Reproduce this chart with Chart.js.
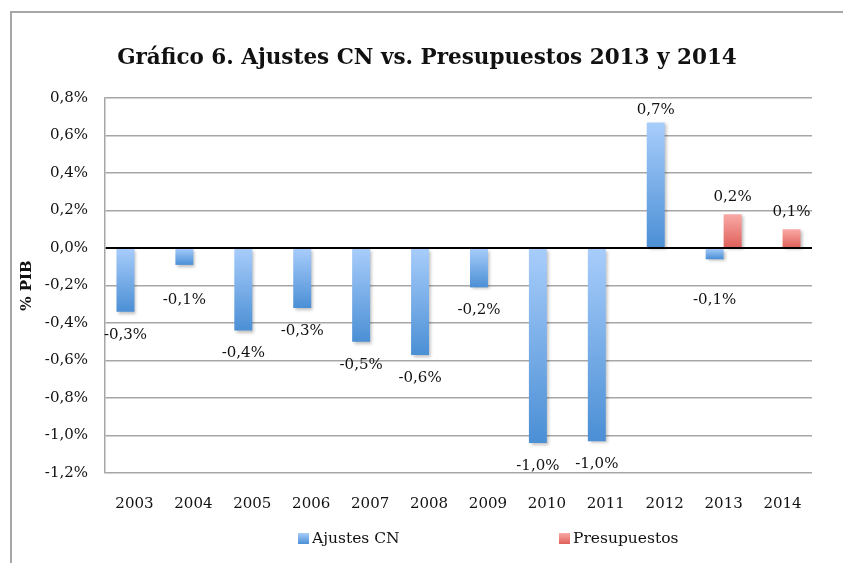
<!DOCTYPE html>
<html>
<head>
<meta charset="utf-8">
<script src="https://cdn.jsdelivr.net/npm/chart.js@4"></script>
<style>
  body { margin: 0; background: #fff; }
  #frame { position: absolute; left: 10px; top: 11px; width: 900px; height: 600px; border: 2px solid #a6a6a6; }
  #wrap { position: absolute; left: 11px; top: 12px; width: 832px; height: 551px; }
  #title { position: absolute; left: 11px; width: 832px; top: 44px; line-height: 26px; text-align: center;
           font: bold 21.5px "DejaVu Serif", serif; color: #111; }
  .leg { position: absolute; top: 529px; font: 15.5px "DejaVu Serif", serif; color: #111; }
  .leg i { display: inline-block; width: 11px; height: 11px; margin-right: 3px; vertical-align: -1px; }
</style>
</head>
<body>
<div id="frame"></div>
<div id="wrap"><canvas id="chart"></canvas></div>
<div id="title">Gráfico 6. Ajustes CN vs. Presupuestos 2013 y 2014</div>
<div class="leg" style="left:298px"><i style="background:linear-gradient(#a8cdfb,#4b8fd5)"></i>Ajustes CN</div>
<div class="leg" style="left:559px"><i style="background:linear-gradient(#f9aaa6,#df5f59)"></i>Presupuestos</div>
<script>
// years on the x axis
const years = ['2003', '2004', '2005', '2006', '2007', '2008', '2009', '2010', '2011', '2012', '2013', '2014'];
// % of GDP
const ajustesCN = [-0.34, -0.09, -0.44, -0.32, -0.50, -0.57, -0.21, -1.04, -1.03, 0.67, -0.06, null];
const presupuestos = [null, null, null, null, null, null, null, null, null, null, 0.18, 0.10];

const serif = '"DejaVu Serif", serif';
const pct = v => (Math.abs(v) < 1e-9 ? 0 : v).toFixed(1).replace('.', ',') + '%';

// vertical gradient over each bar: light on top, dark at the bottom
function barGradient(top, bottom) {
  return ctx => {
    const chart = ctx.chart;
    const y = chart.scales.y;
    if (!y || ctx.raw == null || !chart.chartArea) return bottom;
    const p0 = y.getPixelForValue(0);
    const p1 = y.getPixelForValue(ctx.raw);
    const a = Math.min(p0, p1), b = Math.max(p0, p1);
    if (b - a < 1) return bottom;
    const g = chart.ctx.createLinearGradient(0, a, 0, b);
    g.addColorStop(0, top);
    g.addColorStop(1, bottom);
    return g;
  };
}

const shadowPlugin = {
  id: 'shadow',
  beforeDatasetsDraw(chart) {
    const c = chart.ctx;
    c.save();
    c.shadowColor = 'rgba(0,0,0,0.25)';
    c.shadowBlur = 3;
    c.shadowOffsetX = 2;
    c.shadowOffsetY = 2;
  },
  afterDatasetsDraw(chart) {
    chart.ctx.restore();
  }
};

const labelPlugin = {
  id: 'labels',
  afterDatasetsDraw(chart) {
    const c = chart.ctx;
    const zero = chart.scales.y.getPixelForValue(0);
    c.save();
    c.font = '15px ' + serif;
    c.fillStyle = '#111';
    c.textAlign = 'center';
    c.textBaseline = 'middle';
    chart.data.datasets.forEach((ds, i) => {
      chart.getDatasetMeta(i).data.forEach((bar, j) => {
        const v = ds.data[j];
        if (v == null) return;
        let y;
        if (v < 0) y = Math.max(bar.y + 23, zero + 52);
        else y = Math.max(bar.y - 17, 98);
        c.fillText(pct(v), bar.x, y);
      });
    });
    c.restore();
  }
};

new Chart(document.getElementById('chart'), {
  type: 'bar',
  data: {
    labels: years,
    datasets: [
      { label: 'Ajustes CN', data: ajustesCN, backgroundColor: barGradient('#a8cdfb', '#4b8fd5') },
      { label: 'Presupuestos', data: presupuestos, backgroundColor: barGradient('#f9aaa6', '#df5f59') }
    ]
  },
  options: {
    responsive: true,
    maintainAspectRatio: false,
    animation: false,
    categoryPercentage: 0.61,
    barPercentage: 1.0,
    layout: { padding: { right: 31, left: 0, top: 86, bottom: 0 } },
    plugins: {
      legend: { display: false },
      tooltip: { enabled: false }
    },
    scales: {
      x: {
        grid: { display: false },
        border: { display: false },
        ticks: { color: '#111', padding: 14, font: { family: serif, size: 15 } },
        afterFit: s => { s.height = 90; }
      },
      y: {
        min: -1.2,
        max: 0.8,
        ticks: {
          stepSize: 0.2,
          color: '#111',
          padding: 17,
          font: { family: serif, size: 15 },
          callback: v => pct(v)
        },
        grid: {
          drawTicks: false,
          color: c => Math.abs(c.tick.value) < 1e-9 ? '#000' : '#a6a6a6',
          lineWidth: c => Math.abs(c.tick.value) < 1e-9 ? 2 : 1.5
        },
        border: { color: '#a6a6a6', width: 1.5 },
        title: {
          display: true,
          text: '% PIB',
          color: '#111',
          font: { family: serif, size: 15, weight: 'bold' },
          padding: { top: 7, bottom: 0 }
        },
        afterFit: s => { s.width = 94; }
      }
    }
  },
  plugins: [shadowPlugin, labelPlugin]
});
</script>
</body>
</html>
